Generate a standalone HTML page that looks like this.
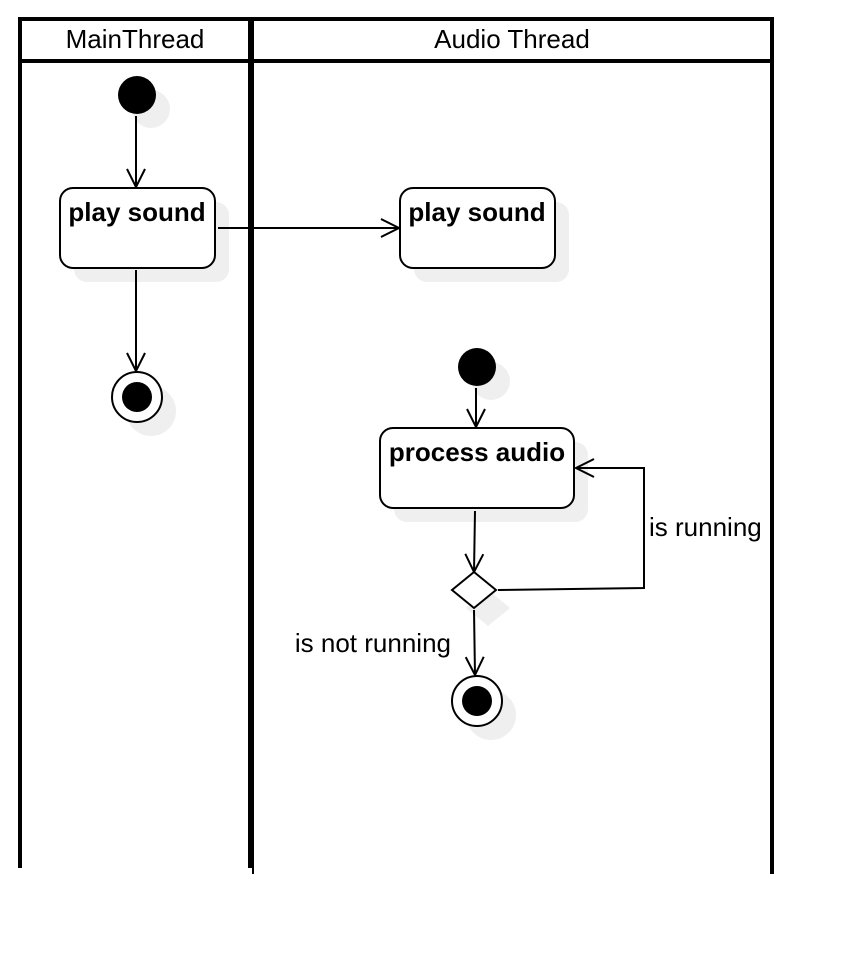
<!DOCTYPE html>
<html><head><meta charset="utf-8"><style>
html,body{margin:0;padding:0;background:#fff;}
svg{display:block;font-family:"Liberation Sans",Arial,sans-serif;}
</style></head><body>
<svg width="852" height="954" viewBox="0 0 852 954">
<defs>
<marker id="ah" markerWidth="22" markerHeight="22" refX="20" refY="11" orient="auto" markerUnits="userSpaceOnUse">
<path d="M2,2 L20,11 L2,20" fill="none" stroke="#000" stroke-width="2"/>
</marker>
</defs>
<g stroke="#000" stroke-width="4" fill="none">
<line x1="20" y1="17" x2="20" y2="868"/>
<line x1="250" y1="17" x2="250" y2="868"/>
<line x1="253" y1="17" x2="253" y2="874" stroke-width="2"/>
<line x1="772" y1="17" x2="772" y2="874"/>
<line x1="18" y1="19" x2="774" y2="19"/>
<line x1="18" y1="61" x2="774" y2="61"/>
</g>
<text x="135" y="48" font-size="26" text-anchor="middle">MainThread</text>
<text x="512" y="48" font-size="26" text-anchor="middle">Audio Thread</text>

<g fill="#efefef">
<circle cx="151" cy="109" r="19"/>
<rect x="74" y="202" width="155" height="80" rx="13"/>
<circle cx="151" cy="411" r="25"/>
<rect x="414" y="202" width="155" height="80" rx="13"/>
<circle cx="491" cy="381" r="19"/>
<rect x="394" y="442" width="194" height="80" rx="13"/>
<path d="M488,590 L510,608 L488,626 L466,608 Z"/>
<circle cx="491" cy="715" r="25"/>
</g>

<circle cx="137" cy="95" r="19" fill="#000"/>
<line x1="136" y1="116" x2="136" y2="187" stroke="#000" stroke-width="2" marker-end="url(#ah)"/>
<rect x="60" y="188" width="155" height="80" rx="13" fill="#fff" stroke="#000" stroke-width="2"/>
<text x="137" y="221" font-size="26" font-weight="bold" text-anchor="middle">play sound</text>
<line x1="218" y1="228" x2="399" y2="228" stroke="#000" stroke-width="2" marker-end="url(#ah)"/>
<line x1="136" y1="270" x2="136" y2="371" stroke="#000" stroke-width="2" marker-end="url(#ah)"/>
<circle cx="137" cy="397" r="25" fill="#fff" stroke="#000" stroke-width="2"/>
<circle cx="137" cy="397" r="15" fill="#000"/>

<rect x="400" y="188" width="155" height="80" rx="13" fill="#fff" stroke="#000" stroke-width="2"/>
<text x="477" y="221" font-size="26" font-weight="bold" text-anchor="middle">play sound</text>

<circle cx="477" cy="367" r="19" fill="#000"/>
<line x1="476" y1="388" x2="476" y2="427" stroke="#000" stroke-width="2" marker-end="url(#ah)"/>
<rect x="380" y="428" width="194" height="80" rx="13" fill="#fff" stroke="#000" stroke-width="2"/>
<text x="477" y="461" font-size="26" font-weight="bold" text-anchor="middle">process audio</text>
<line x1="475" y1="511" x2="474" y2="572" stroke="#000" stroke-width="2" marker-end="url(#ah)"/>
<path d="M474,572 L496,590 L474,608 L452,590 Z" fill="#fff" stroke="#000" stroke-width="2"/>
<path d="M498,590 L644,588 L644,468 L576,468" fill="none" stroke="#000" stroke-width="2" marker-end="url(#ah)"/>
<text x="649" y="536" font-size="26">is running</text>
<line x1="474" y1="610" x2="475" y2="675" stroke="#000" stroke-width="2" marker-end="url(#ah)"/>
<text x="451" y="652" font-size="26" text-anchor="end">is not running</text>
<circle cx="477" cy="701" r="25" fill="#fff" stroke="#000" stroke-width="2"/>
<circle cx="477" cy="701" r="15" fill="#000"/>
</svg>
</body></html>
